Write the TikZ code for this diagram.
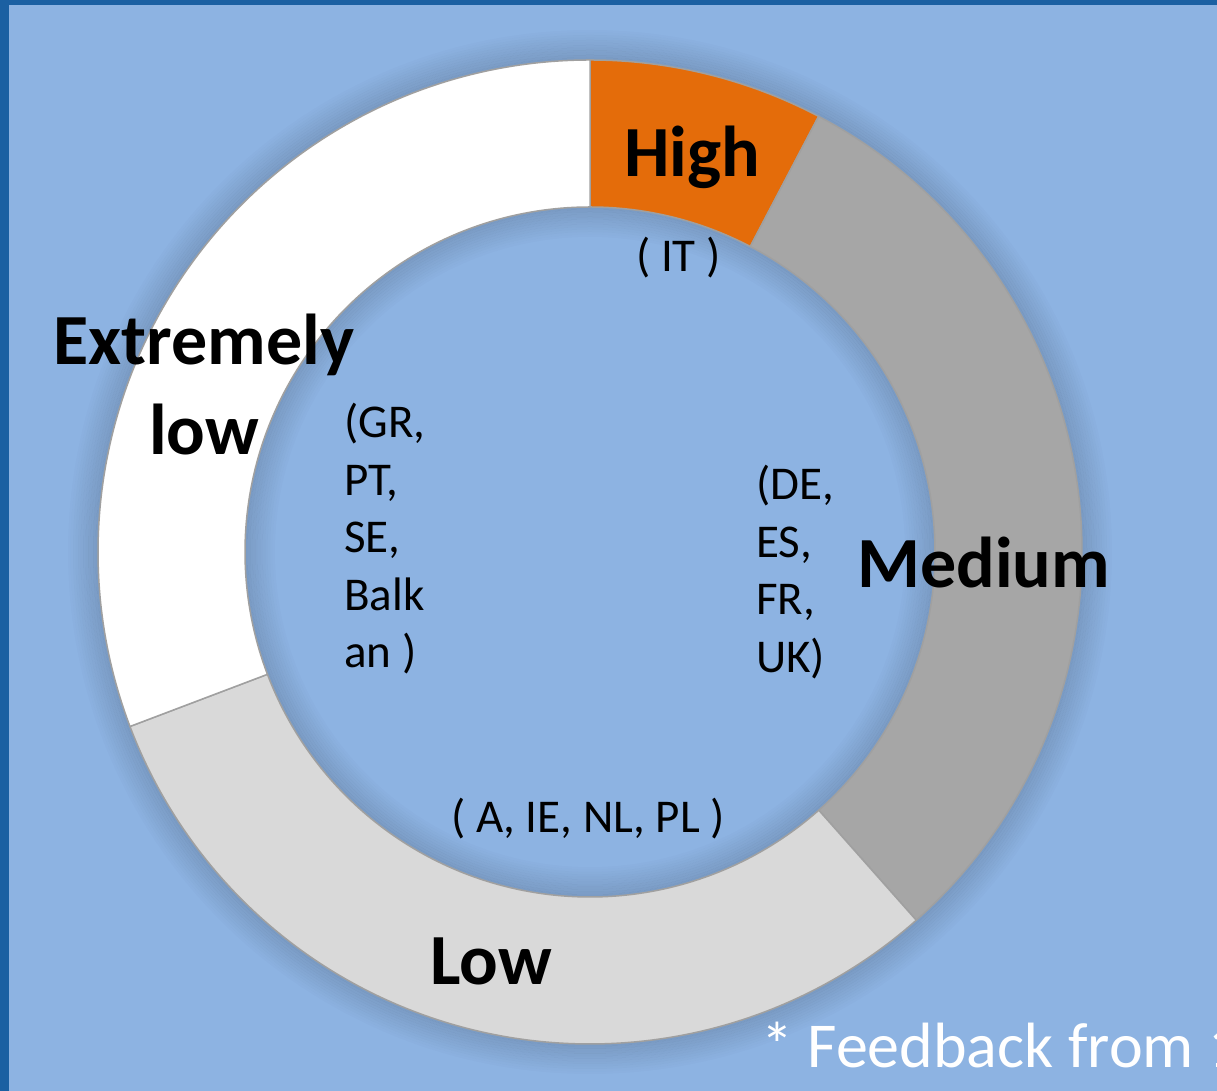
\documentclass[tikz,border=0pt]{standalone}
\usepackage{fontspec}
\setmainfont{Carlito}
\usetikzlibrary{positioning}
\definecolor{slideblue}{HTML}{8DB3E2}
\definecolor{framedark}{HTML}{1B60A2}
\definecolor{highorange}{HTML}{E46C0A}
\definecolor{medgray}{HTML}{A6A6A6}
\definecolor{lowgray}{HTML}{D9D9D9}
\definecolor{edgegray}{HTML}{A0A0A0}

\begin{document}
\begin{tikzpicture}[x=1pt,y=1pt,
    seg/.style={draw=edgegray,line width=1.5pt,line join=round},
    level/.style={font=\fontsize{72}{90}\selectfont\bfseries,inner sep=0pt},
    land/.style={font=\fontsize{47}{57.5}\selectfont,inner sep=0pt,align=left}]

  \useasboundingbox (0,0) rectangle (1217,1091);
  \fill[slideblue] (0,0) rectangle (1217,1091);
  \fill[framedark] (0,1086) rectangle (1217,1091);
  \fill[framedark] (0,0) rectangle (9,1091);

  \coordinate (c) at (590,539);

  % soft shadow outside and inside the ring
  \foreach \i [evaluate=\i as \op using 0.14*(1-\i/13)] in {1,...,12}{
    \draw[black,line width=2.5pt,opacity=\op] (c) circle ({492+2.5*\i-1.25});
    \draw[black,line width=2.5pt,opacity=\op] (c) circle ({345-2.5*\i+1.25});
  }

  % ring: 1 + 4 + 4 + 4 answers
  \foreach \a/\b/\col in {90/62.31/highorange, 62.31/-48.46/medgray,
                          -48.46/-159.23/lowgray, -159.23/-270/white}
    \filldraw[seg,fill=\col] ([shift={(\a:492)}]c) arc[start angle=\a,end angle=\b,radius=492]
      -- ([shift={(\b:345)}]c) arc[start angle=\b,end angle=\a,radius=345] -- cycle;

  % base of a multi-line node = baseline of its last line
  \node[level,anchor=base]      (high)   at (692,914) {High};
  \node[level,anchor=base west] (medium) at (857,503) {Medium};
  \node[level,anchor=base west] (low)    at (430,106) {Low};
  \node[level,anchor=base,align=center] (xlow) at (204,636) {Extremely\\low};

  \node[land,anchor=base west] (it)   at (636,819) {( IT )};
  \node[land,anchor=base west] (grpt) at (344,423) {(GR,\\PT,\\SE,\\Balk\\an )};
  \node[land,anchor=base west] (dees) at (756,418.5) {(DE,\\ES,\\FR,\\UK)};
  \node[land,anchor=base west] (aie)  at (451,258) {( A, IE, NL, PL )};

  \node[font=\fontsize{64}{72}\selectfont,text=white,inner sep=0pt,anchor=base west]
    (note) at (761,23) {* Feedback from 1};
\end{tikzpicture}
\end{document}
